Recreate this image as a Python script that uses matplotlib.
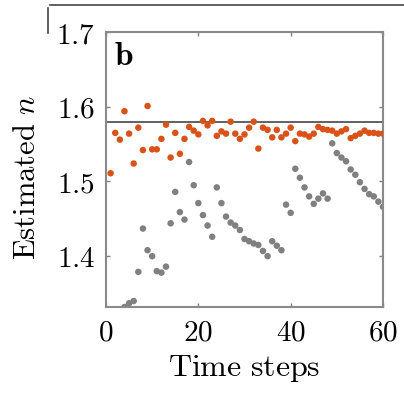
import matplotlib
matplotlib.use("Agg")
import matplotlib.pyplot as plt
from matplotlib.lines import Line2D
import numpy as np

plt.rcParams['mathtext.fontset'] = 'cm'
plt.rcParams['font.family'] = 'serif'
plt.rcParams['font.serif'] = ['DejaVu Serif']

t_orange = list(range(1, 61))
n_orange = [1.511, 1.565, 1.556, 1.594, 1.564, 1.524, 1.572, 1.542, 1.601, 1.543,
            1.543, 1.557, 1.576, 1.532, 1.565, 1.537, 1.557, 1.573, 1.568, 1.563,
            1.581, 1.575, 1.581, 1.561, 1.567, 1.564, 1.580, 1.564, 1.557, 1.563,
            1.572, 1.580, 1.544, 1.572, 1.569, 1.559, 1.569, 1.559, 1.564, 1.572,
            1.554, 1.564, 1.563, 1.560, 1.564, 1.573, 1.570, 1.569, 1.568, 1.564,
            1.567, 1.570, 1.558, 1.561, 1.564, 1.568, 1.565, 1.565, 1.564, 1.564]

t_gray = list(range(4, 61))
n_gray = [1.332, 1.337, 1.340, 1.379, 1.437, 1.408, 1.400, 1.380, 1.378, 1.386,
          1.444, 1.486, 1.459, 1.449, 1.526, 1.495, 1.471, 1.455, 1.441, 1.426,
          1.492, 1.471, 1.453, 1.445, 1.441, 1.435, 1.423, 1.420, 1.417, 1.415,
          1.407, 1.400, 1.420, 1.414, 1.408, 1.469, 1.458, 1.517, 1.505, 1.492,
          1.480, 1.470, 1.477, 1.484, 1.477, 1.551, 1.538, 1.532, 1.527, 1.516,
          1.509, 1.499, 1.490, 1.483, 1.480, 1.473, 1.466]

true_n = 1.58

xticks = [0, 20, 40, 60]
yticks = [1.4, 1.5, 1.6, 1.7]

fig = plt.figure(figsize=(4.04, 3.95), dpi=100)
ax = fig.add_axes([106/404, 1-307/395, (383-106)/404, (307-32)/395])

ax.axhline(true_n, color='#555555', lw=1.3, zorder=1)
ax.scatter(t_gray, n_gray, s=22, color='#808080', edgecolors='none', zorder=2)
ax.scatter(t_orange, n_orange, s=22, color='#D95319', edgecolors='none', zorder=3)

ax.set_xlim(0, 60)
ax.set_ylim(1.332, 1.7)
ax.set_xticks(xticks)
ax.set_xticklabels([f'${v}$' for v in xticks], fontsize=21)
ax.set_yticks(yticks)
ax.set_yticklabels([f'${v:.1f}$' for v in yticks], fontsize=21)
ax.tick_params(direction='in', length=3, width=1, color='#808080', top=True, right=True, pad=8)
for s in ax.spines.values():
    s.set_color('#8a8a8a')
    s.set_linewidth(1.5)

ax.set_xlabel(r'$\mathrm{Time\ steps}$', fontsize=23, labelpad=5)
ax.set_ylabel(r'$\mathrm{Estimated}\ n$', fontsize=22)
ax.yaxis.set_label_coords(-0.23, 0.47)
ax.text(0.03, 0.97, r'$\mathbf{b}$', transform=ax.transAxes, fontsize=24, ha='left', va='top')

# partial frame artifact at top-left
fig.add_artist(Line2D([48/404, 48/404], [1-33/395, 1-8/395], color='#444444', lw=1.2))
fig.add_artist(Line2D([50/404, 1.0], [1-5/395, 1-5/395], color='#444444', lw=1.2))

fig.savefig('out.png', dpi=100)
